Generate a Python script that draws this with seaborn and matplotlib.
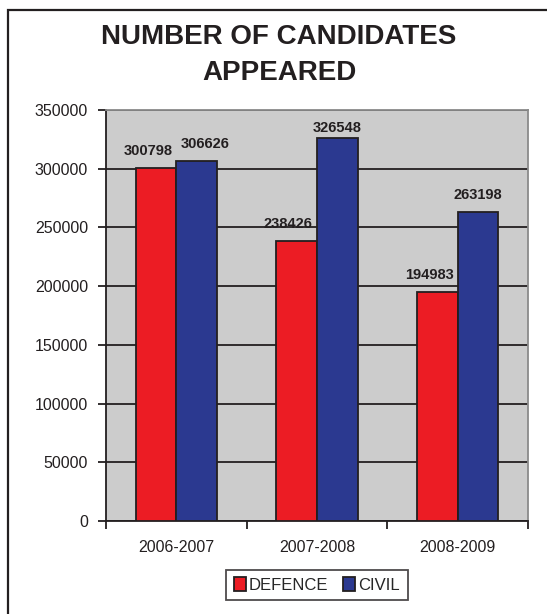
import numpy as np
import pandas as pd
import matplotlib
matplotlib.use("Agg")
import matplotlib.pyplot as plt
import seaborn as sns
from matplotlib.patches import Rectangle

# ── data ─────────────────────────────────────
years    = ["2006-2007", "2007-2008", "2008-2009"]
defence  = [300798, 238426, 194983]
civil    = [306626, 326548, 263198]
series   = ["DEFENCE", "CIVIL"]
colors   = ["#EC1C24", "#2B3990"]
y_ticks  = [0, 50000, 100000, 150000, 200000, 250000, 300000, 350000]

df = pd.DataFrame({
    "year":  years * 2,
    "count": defence + civil,
    "type":  [series[0]] * len(years) + [series[1]] * len(years),
})

sns.set_style("white")
plt.rcParams["font.family"] = ["Liberation Sans", "DejaVu Sans"]

fig = plt.figure(figsize=(5.47, 6.14), dpi=100)
fig.patch.set_facecolor("white")
ax = fig.add_axes([106 / 547, 1 - 521 / 614, (528 - 106) / 547, (521 - 110) / 614])
ax.set_facecolor("#CCCCCC")

sns.barplot(data=df, x="year", y="count", hue="type", palette=colors,
            width=0.576, gap=0, edgecolor="#231F20", linewidth=1.3,
            saturation=1, ax=ax, zorder=3)

# value labels (offsets in points, mimic the original placement)
offsets = [[(-6, 7), (-6, 7), (-6, 7)],
           [(6, 7), (0, 2), (0, 7)]]
for cont, offs in zip(ax.containers, offsets):
    anns = ax.bar_label(cont, fmt="%d", padding=7, fontsize=10.5,
                        fontweight="bold", color="#231F20")
    for ann, off in zip(anns, offs):
        ann.xyann = off

ax.set_ylim(0, 350000)
ax.set_yticks(y_ticks)
ax.set_yticklabels([str(v) for v in y_ticks], fontsize=11.5, color="#231F20")
ax.yaxis.grid(True, color="#231F20", linewidth=1.3, zorder=1)
ax.set_axisbelow(True)
ax.tick_params(axis="y", length=6, width=1.3, color="#231F20", left=True, pad=7)

ax.set_xlim(-0.5, 2.5)
ax.set_xticks(range(len(years)))
ax.set_xticklabels(years, fontsize=11.5, color="#231F20")
ax.set_xticks([-0.5, 0.5, 1.5, 2.5], minor=True)
ax.tick_params(axis="x", which="major", length=0, pad=14)
ax.tick_params(axis="x", which="minor", length=6, width=1.3, color="#231F20",
               bottom=True)
ax.set_xlabel("")
ax.set_ylabel("")

for side in ("left", "bottom"):
    ax.spines[side].set_color("#231F20")
    ax.spines[side].set_linewidth(1.3)
for side in ("top", "right"):
    ax.spines[side].set_color("#8A8A8A")
    ax.spines[side].set_linewidth(1.3)

# legend
handles, labels = ax.get_legend_handles_labels()
ax.legend(handles, labels, loc="center", bbox_to_anchor=(317 / 547, 1 - 585 / 614),
          bbox_transform=fig.transFigure, ncol=2, frameon=True, fancybox=False,
          edgecolor="#231F20", fontsize=12, handlelength=0.7, handleheight=0.9,
          handletextpad=0.2, columnspacing=0.9, borderpad=0.45)
ax.get_legend().get_frame().set_linewidth(1.3)

# title
fig.text(279 / 547, 1 - 55 / 614, "NUMBER OF CANDIDATES\nAPPEARED", ha="center",
         va="center", fontsize=20, fontweight="bold", color="#231F20",
         linespacing=1.45)

# outer frame
fig.patches.append(Rectangle((8 / 547, -0.05), 1.2, 1.05 - 10 / 614,
                             transform=fig.transFigure, fill=False,
                             edgecolor="#231F20", linewidth=1.6))

fig.savefig("out.png", dpi=100)
